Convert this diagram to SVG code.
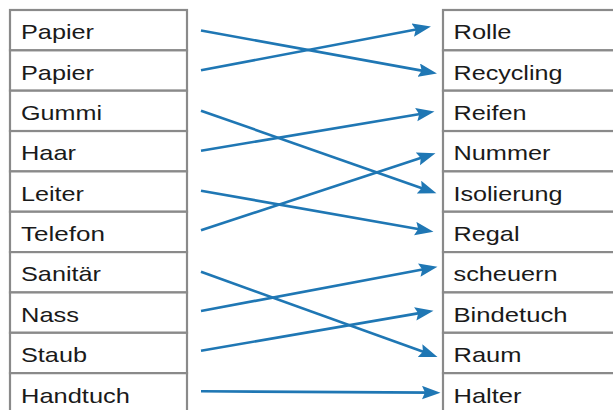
<svg xmlns="http://www.w3.org/2000/svg" width="613" height="410" viewBox="0 0 613 410">
<style>
.box{fill:#fff;stroke:#8a8a8a;stroke-width:2.2}
.t{font-family:"Liberation Sans",Arial,sans-serif;font-size:21px;fill:#1a1a1a}
.c{stroke:#1f77b4;stroke-width:2.6;fill:none;marker-end:url(#ah)}
</style>
<defs>
<marker id="ah" markerUnits="userSpaceOnUse" markerWidth="19" markerHeight="14" refX="10" refY="6.75" orient="auto">
<path d="M0,0 L18.5,6.75 L0,13.5 L3,6.75 Z" fill="#1f77b4"/>
</marker>
</defs>
<g id="left">
<g id="l0"><rect class="box" x="10" y="10" width="177" height="40.35"/><text class="t" x="21" y="39.3" textLength="73" lengthAdjust="spacingAndGlyphs">Papier</text></g>
<g id="l1"><rect class="box" x="10" y="50.35" width="177" height="40.35"/><text class="t" x="21" y="79.6" textLength="73" lengthAdjust="spacingAndGlyphs">Papier</text></g>
<g id="l2"><rect class="box" x="10" y="90.7" width="177" height="40.35"/><text class="t" x="21" y="120" textLength="81" lengthAdjust="spacingAndGlyphs">Gummi</text></g>
<g id="l3"><rect class="box" x="10" y="131.05" width="177" height="40.35"/><text class="t" x="21" y="160.3" textLength="55" lengthAdjust="spacingAndGlyphs">Haar</text></g>
<g id="l4"><rect class="box" x="10" y="171.4" width="177" height="40.35"/><text class="t" x="21" y="200.7" textLength="63" lengthAdjust="spacingAndGlyphs">Leiter</text></g>
<g id="l5"><rect class="box" x="10" y="211.75" width="177" height="40.35"/><text class="t" x="21" y="241" textLength="84" lengthAdjust="spacingAndGlyphs">Telefon</text></g>
<g id="l6"><rect class="box" x="10" y="252.1" width="177" height="40.35"/><text class="t" x="21" y="281.4" textLength="80" lengthAdjust="spacingAndGlyphs">Sanitär</text></g>
<g id="l7"><rect class="box" x="10" y="292.45" width="177" height="40.35"/><text class="t" x="21" y="321.7" textLength="58" lengthAdjust="spacingAndGlyphs">Nass</text></g>
<g id="l8"><rect class="box" x="10" y="332.8" width="177" height="40.35"/><text class="t" x="21" y="362.1" textLength="66" lengthAdjust="spacingAndGlyphs">Staub</text></g>
<g id="l9"><rect class="box" x="10" y="373.15" width="177" height="40.35"/><text class="t" x="21" y="402.6" textLength="109" lengthAdjust="spacingAndGlyphs">Handtuch</text></g>
</g>
<g id="right">
<g id="r0"><rect class="box" x="443" y="10" width="200" height="40.35"/><text class="t" x="453.5" y="39.3" textLength="58" lengthAdjust="spacingAndGlyphs">Rolle</text></g>
<g id="r1"><rect class="box" x="443" y="50.35" width="200" height="40.35"/><text class="t" x="453.5" y="79.6" textLength="109" lengthAdjust="spacingAndGlyphs">Recycling</text></g>
<g id="r2"><rect class="box" x="443" y="90.7" width="200" height="40.35"/><text class="t" x="453.5" y="120" textLength="73" lengthAdjust="spacingAndGlyphs">Reifen</text></g>
<g id="r3"><rect class="box" x="443" y="131.05" width="200" height="40.35"/><text class="t" x="453.5" y="160.3" textLength="97" lengthAdjust="spacingAndGlyphs">Nummer</text></g>
<g id="r4"><rect class="box" x="443" y="171.4" width="200" height="40.35"/><text class="t" x="453.5" y="200.7" textLength="109" lengthAdjust="spacingAndGlyphs">Isolierung</text></g>
<g id="r5"><rect class="box" x="443" y="211.75" width="200" height="40.35"/><text class="t" x="453.5" y="241" textLength="66" lengthAdjust="spacingAndGlyphs">Regal</text></g>
<g id="r6"><rect class="box" x="443" y="252.1" width="200" height="40.35"/><text class="t" x="453.5" y="281.4" textLength="104" lengthAdjust="spacingAndGlyphs">scheuern</text></g>
<g id="r7"><rect class="box" x="443" y="292.45" width="200" height="40.35"/><text class="t" x="453.5" y="321.7" textLength="114" lengthAdjust="spacingAndGlyphs">Bindetuch</text></g>
<g id="r8"><rect class="box" x="443" y="332.8" width="200" height="40.35"/><text class="t" x="453.5" y="362.1" textLength="68" lengthAdjust="spacingAndGlyphs">Raum</text></g>
<g id="r9"><rect class="box" x="443" y="373.15" width="200" height="40.35"/><text class="t" x="453.5" y="402.6" textLength="68" lengthAdjust="spacingAndGlyphs">Halter</text></g>
</g>
<g id="connectors">
<line class="c" x1="201" y1="30.5" x2="428.6" y2="71.9"/>
<line class="c" x1="201" y1="70.3" x2="422.6" y2="28.2"/>
<line class="c" x1="201" y1="110.7" x2="428.4" y2="190.4"/>
<line class="c" x1="201" y1="150.7" x2="426.1" y2="113.0"/>
<line class="c" x1="201" y1="190.7" x2="425.1" y2="230.3"/>
<line class="c" x1="201" y1="230.3" x2="427.4" y2="155.8"/>
<line class="c" x1="201" y1="271.7" x2="429.5" y2="354.0"/>
<line class="c" x1="201" y1="311" x2="429.1" y2="268.2"/>
<line class="c" x1="201" y1="350.7" x2="425.1" y2="312.1"/>
<line class="c" x1="201" y1="391.3" x2="432" y2="392.65"/>
</g>
</svg>
